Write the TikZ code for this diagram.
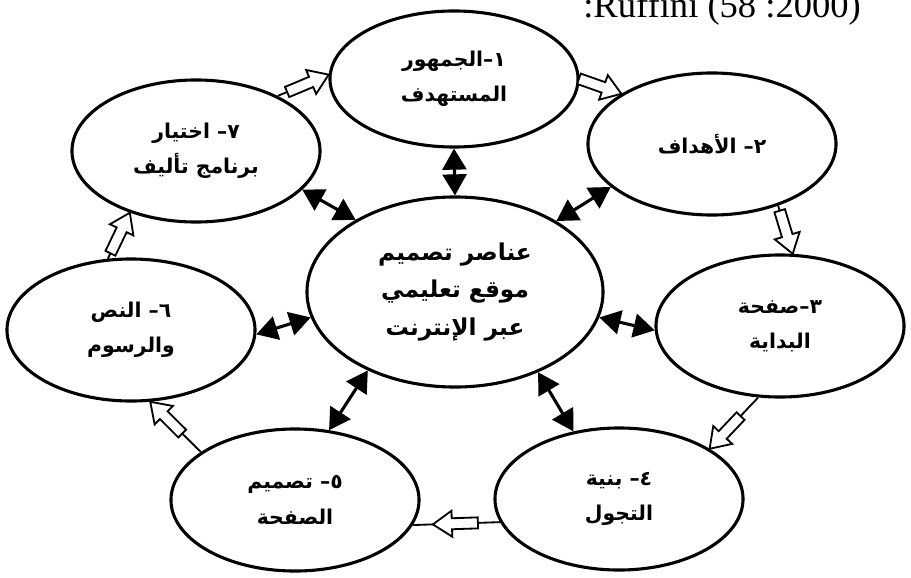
\documentclass[tikz,border=0pt]{standalone}
\usepackage{fontspec}
\usetikzlibrary{shapes,arrows.meta,positioning,calc,decorations.markings}
\TeXXeTstate=1
\newfontfamily\arabicfont[Script=Arabic]{DejaVu Sans}
\newfontfamily\reffont{Liberation Serif}
\newcommand{\arline}[1]{\beginR #1\endR}

\begin{document}
\begin{tikzpicture}[x=0.025cm, y=-0.025cm]
        \tikzset{
            topic/.style={draw, ellipse, fill=white, line width=2.2pt, minimum width=6.2cm, minimum height=3.55cm, inner sep=0pt, align=center, font=\arabicfont\bfseries\fontsize{14.5}{25}\selectfont},
            core/.style={topic, minimum width=7.4cm, minimum height=4.75cm, font=\arabicfont\bfseries\fontsize{16.5}{27}\selectfont},
            link/.style={line width=2.2pt, {Triangle[length=15pt, width=17pt]}-{Triangle[length=15pt, width=17pt]}},
            cyc/.style={line width=1.3pt, postaction={decorate}, decoration={markings, mark=at position #1 with {
                \draw [line width=1.3pt, fill=white] (0,0) -- (-19,13) -- (-19,5.5) -- (-45,5.5) -- (-45,-5.5) -- (-19,-5.5) -- (-19,-13) -- cycle;}}},
            cyc/.default=1
        }
        \useasboundingbox (0,0) rectangle (911,577);

        % Nodes
        \node [core] (c) at (455,292) {\arline{عناصر تصميم}\\\arline{موقع تعليمي}\\\arline{عبر الإنترنت}};
        \node [topic, minimum height=3.4cm] (e1) at (454,79) {\arline{١–الجمهور}\\\arline{المستهدف}};
        \node [topic] (e2) at (712,144) {\arline{٢– الأهداف}};
        \node [topic] (e3) at (780,326) {\arline{٣–صفحة}\\\arline{البداية}};
        \node [topic] (e4) at (619,499) {\arline{٤– بنية}\\\arline{التجول}};
        \node [topic] (e5) at (295,500) {\arline{٥– تصميم}\\\arline{الصفحة}};
        \node [topic] (e6) at (131,330) {\arline{٦– النص}\\\arline{والرسوم}};
        \node [topic] (e7) at (196,151) {\arline{٧– اختيار}\\\arline{برنامج تأليف}};
        \node [font=\reffont\fontsize{26}{30}\selectfont, anchor=base west, inner sep=0pt] (src) at (583,18) {:Ruffini (58 :2000)};

        % Links to the core
        \draw [link] (c.north) -- (e1.south);
        \draw [link] (c.35) -- (e2.203);
        \draw [link] (c.-10) -- (e3.182);
        \draw [link] (c.-44) -- (e4.124);
        \draw [link] (c.222) -- (e5.64);
        \draw [link] (c.190) -- (e6.358);
        \draw [link] (c.144) -- (e7.340);

        % Cycle
        \draw [cyc] (e7.34) -- (e1.178);
        \draw [cyc] (e1.0) -- (e2.151);
        \draw [cyc] (e2.317) -- (e3.80);
        \draw [cyc] (e3.253) -- (e4.29);
        \draw [cyc=0.77] (e4.191) -- (e5.348);
        \draw [cyc] (e5.153) -- (e6.285);
        \draw [cyc] (e6.108) -- (e7.223);
\end{tikzpicture}
\end{document}
